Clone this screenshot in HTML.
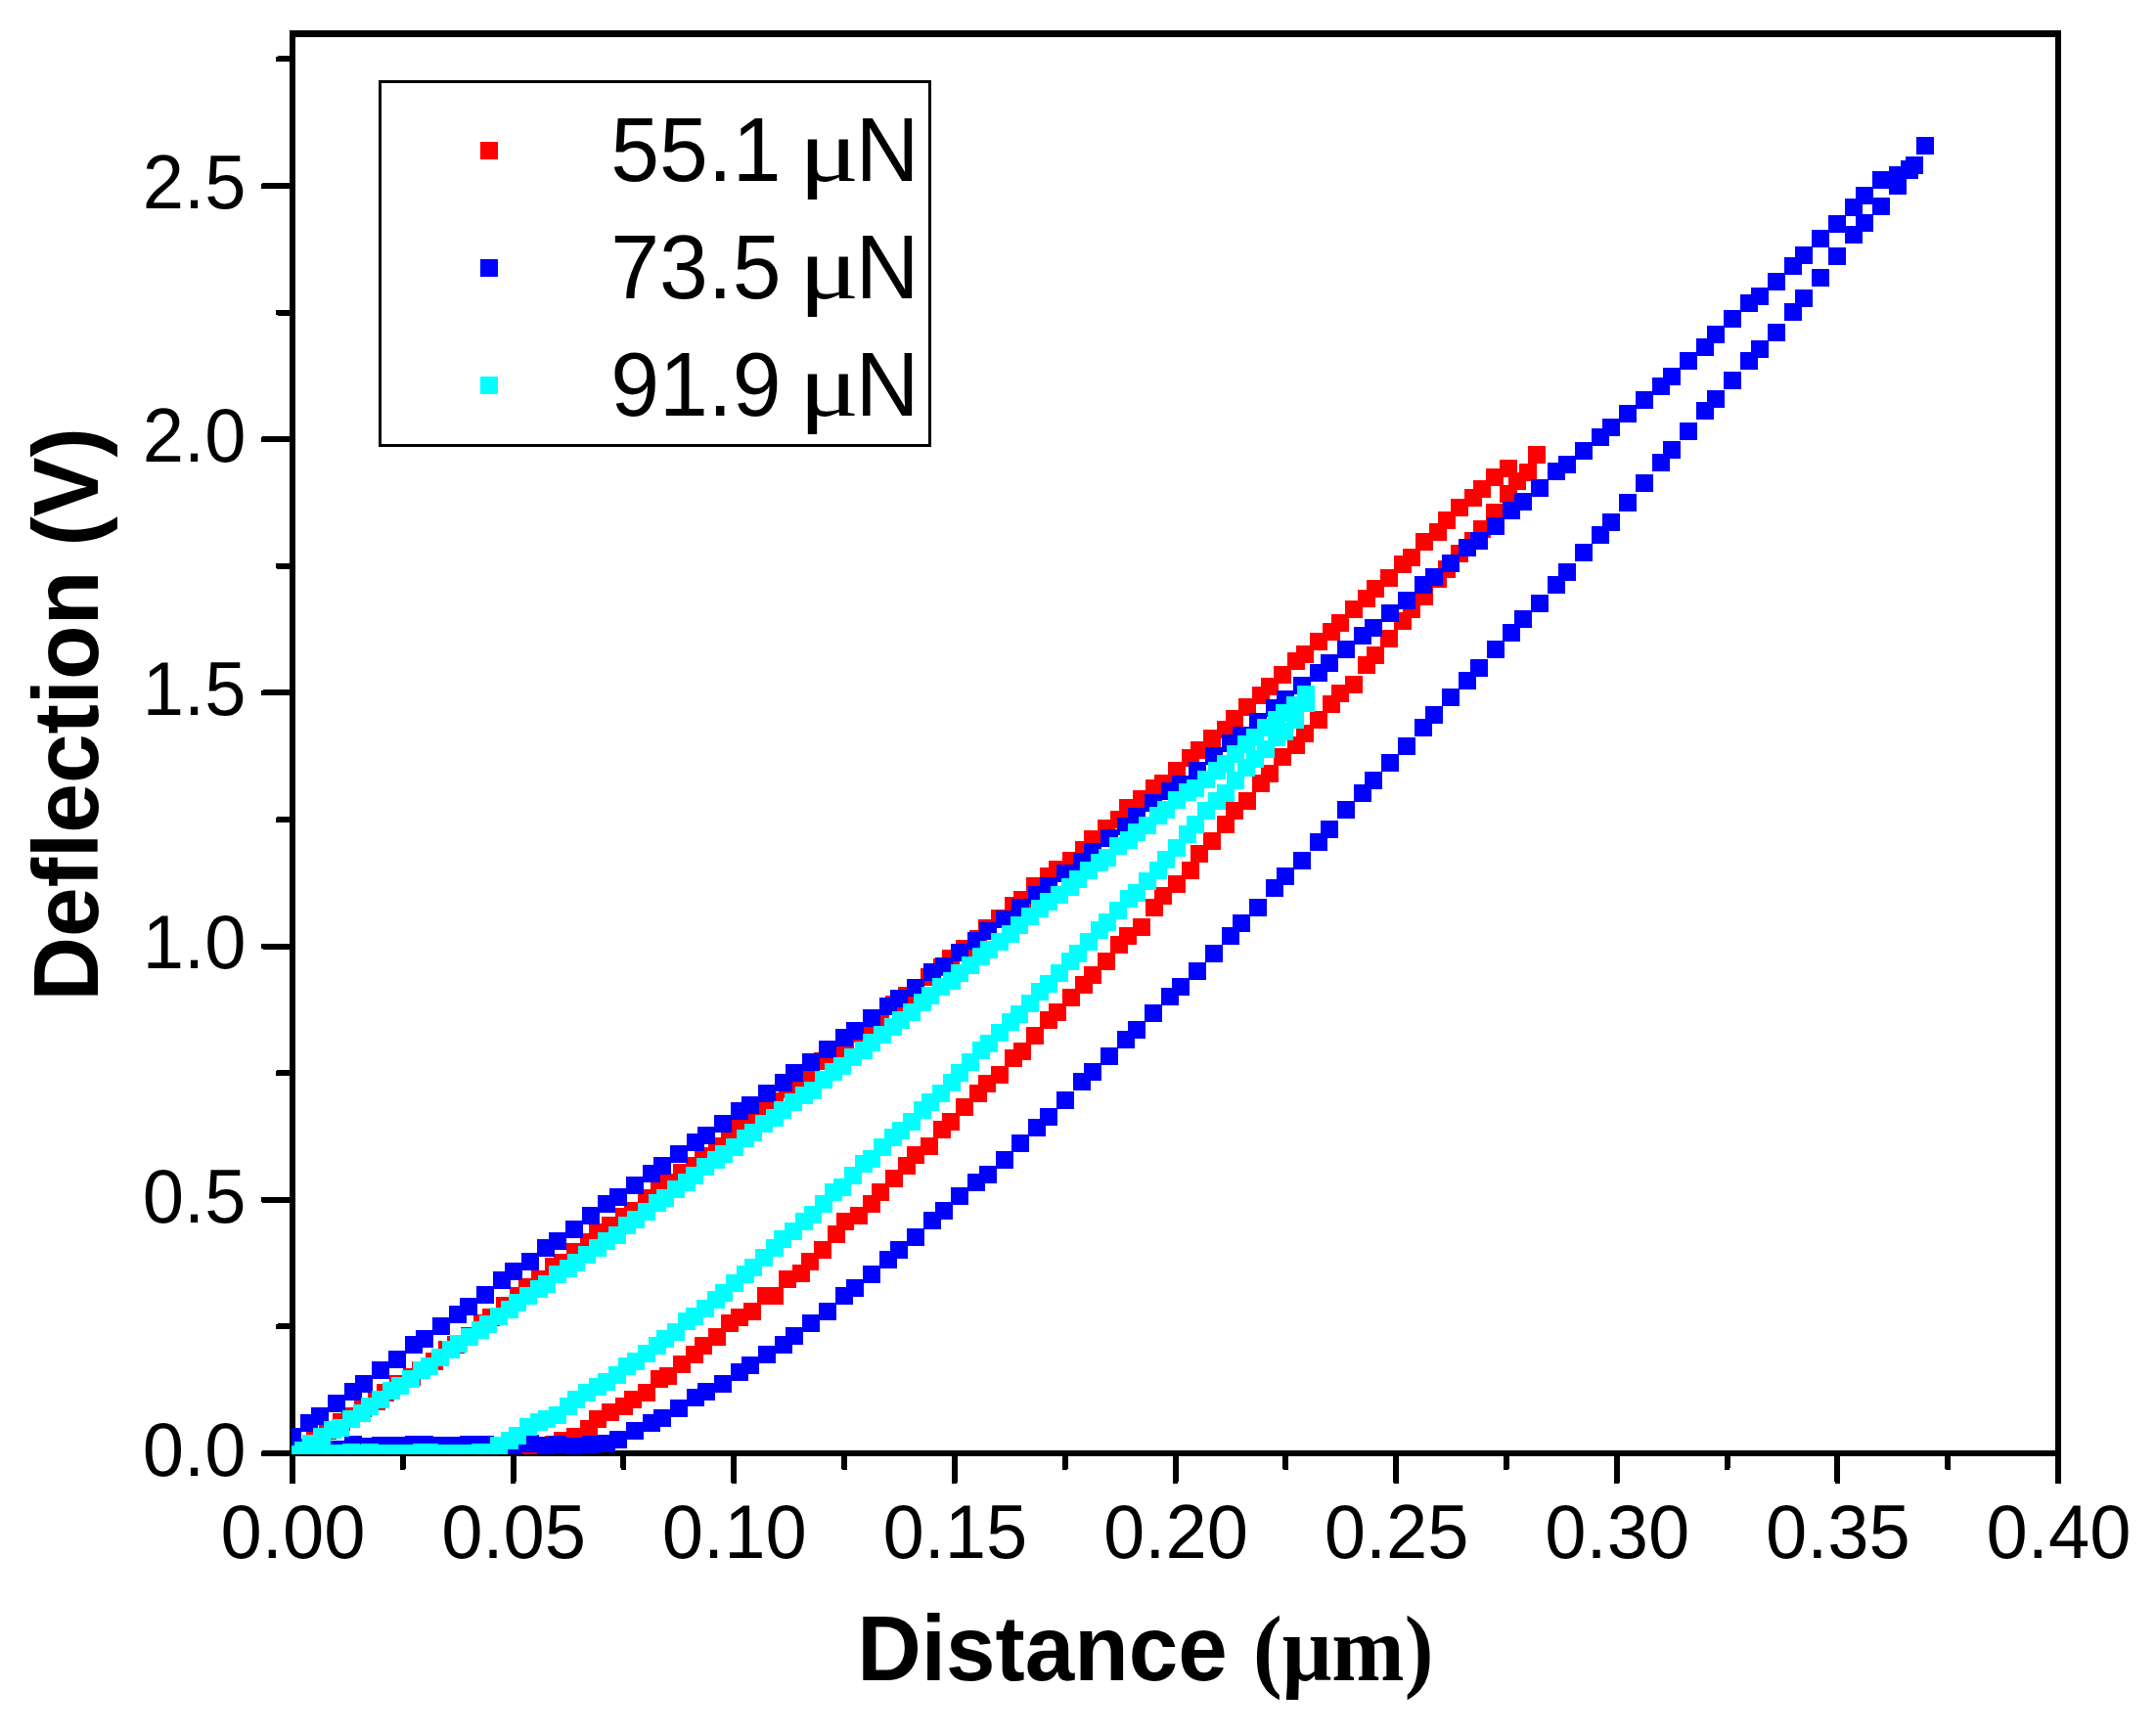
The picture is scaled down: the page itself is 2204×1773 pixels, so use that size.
<!DOCTYPE html>
<html lang="en"><head><meta charset="utf-8"><title>Deflection vs Distance</title>
<style>html,body{margin:0;padding:0;background:#fff}svg{display:block}</style></head>
<body>
<svg width="2204" height="1773" viewBox="0 0 2204 1773" shape-rendering="crispEdges">
<rect width="2204" height="1773" fill="#fff"/>
<g fill="#000">
<rect x="296" y="31" width="6" height="1486"/>
<rect x="2101" y="31" width="6" height="1486"/>
<rect x="296" y="31" width="1811" height="7"/>
<rect x="296" y="1483" width="1811" height="6"/>
<rect x="408.8" y="1485" width="6" height="18" rx="2"/>
<rect x="521.6" y="1485" width="6" height="32" rx="2"/>
<rect x="634.4" y="1485" width="6" height="18" rx="2"/>
<rect x="747.2" y="1485" width="6" height="32" rx="2"/>
<rect x="860.1" y="1485" width="6" height="18" rx="2"/>
<rect x="972.9" y="1485" width="6" height="32" rx="2"/>
<rect x="1085.7" y="1485" width="6" height="18" rx="2"/>
<rect x="1198.5" y="1485" width="6" height="32" rx="2"/>
<rect x="1311.3" y="1485" width="6" height="18" rx="2"/>
<rect x="1424.1" y="1485" width="6" height="32" rx="2"/>
<rect x="1536.9" y="1485" width="6" height="18" rx="2"/>
<rect x="1649.8" y="1485" width="6" height="32" rx="2"/>
<rect x="1762.6" y="1485" width="6" height="18" rx="2"/>
<rect x="1875.4" y="1485" width="6" height="32" rx="2"/>
<rect x="1988.2" y="1485" width="6" height="18" rx="2"/>
<rect x="267" y="1483.0" width="33" height="6" rx="2"/>
<rect x="282" y="1353.4" width="18" height="6" rx="2"/>
<rect x="267" y="1223.8" width="33" height="6" rx="2"/>
<rect x="282" y="1094.2" width="18" height="6" rx="2"/>
<rect x="267" y="964.6" width="33" height="6" rx="2"/>
<rect x="282" y="835.0" width="18" height="6" rx="2"/>
<rect x="267" y="705.4" width="33" height="6" rx="2"/>
<rect x="282" y="575.8" width="18" height="6" rx="2"/>
<rect x="267" y="446.2" width="33" height="6" rx="2"/>
<rect x="282" y="316.6" width="18" height="6" rx="2"/>
<rect x="267" y="187.0" width="33" height="6" rx="2"/>
<rect x="282" y="57.4" width="18" height="6" rx="2"/>
</g>
<defs><clipPath id="c"><rect x="298" y="34" width="1807" height="1453"/></clipPath></defs>
<g clip-path="url(#c)">
<g fill="#ff0000"><rect x="290" y="1479" width="18" height="18"/><rect x="304" y="1471" width="18" height="18"/><rect x="313" y="1464" width="18" height="18"/><rect x="326" y="1454" width="18" height="18"/><rect x="340" y="1445" width="18" height="18"/><rect x="349" y="1439" width="18" height="18"/><rect x="362" y="1431" width="18" height="18"/><rect x="376" y="1424" width="18" height="18"/><rect x="385" y="1415" width="18" height="18"/><rect x="398" y="1406" width="18" height="18"/><rect x="412" y="1399" width="18" height="18"/><rect x="421" y="1392" width="18" height="18"/><rect x="435" y="1383" width="18" height="18"/><rect x="448" y="1371" width="18" height="18"/><rect x="457" y="1366" width="18" height="18"/><rect x="471" y="1357" width="18" height="18"/><rect x="484" y="1344" width="18" height="18"/><rect x="493" y="1338" width="18" height="18"/><rect x="507" y="1326" width="18" height="18"/><rect x="521" y="1316" width="18" height="18"/><rect x="530" y="1307" width="18" height="18"/><rect x="543" y="1299" width="18" height="18"/><rect x="557" y="1286" width="18" height="18"/><rect x="566" y="1282" width="18" height="18"/><rect x="579" y="1271" width="18" height="18"/><rect x="593" y="1261" width="18" height="18"/><rect x="602" y="1251" width="18" height="18"/><rect x="615" y="1244" width="18" height="18"/><rect x="629" y="1235" width="18" height="18"/><rect x="638" y="1229" width="18" height="18"/><rect x="652" y="1216" width="18" height="18"/><rect x="665" y="1208" width="18" height="18"/><rect x="674" y="1200" width="18" height="18"/><rect x="688" y="1190" width="18" height="18"/><rect x="701" y="1183" width="18" height="18"/><rect x="710" y="1173" width="18" height="18"/><rect x="724" y="1163" width="18" height="18"/><rect x="737" y="1154" width="18" height="18"/><rect x="747" y="1145" width="18" height="18"/><rect x="760" y="1135" width="18" height="18"/><rect x="774" y="1125" width="18" height="18"/><rect x="783" y="1117" width="18" height="18"/><rect x="796" y="1105" width="18" height="18"/><rect x="810" y="1096" width="18" height="18"/><rect x="819" y="1091" width="18" height="18"/><rect x="832" y="1076" width="18" height="18"/><rect x="846" y="1069" width="18" height="18"/><rect x="855" y="1060" width="18" height="18"/><rect x="869" y="1048" width="18" height="18"/><rect x="882" y="1041" width="18" height="18"/><rect x="891" y="1032" width="18" height="18"/><rect x="905" y="1018" width="18" height="18"/><rect x="918" y="1009" width="18" height="18"/><rect x="927" y="1002" width="18" height="18"/><rect x="941" y="990" width="18" height="18"/><rect x="954" y="980" width="18" height="18"/><rect x="963" y="971" width="18" height="18"/><rect x="977" y="961" width="18" height="18"/><rect x="991" y="951" width="18" height="18"/><rect x="1000" y="940" width="18" height="18"/><rect x="1013" y="930" width="18" height="18"/><rect x="1027" y="917" width="18" height="18"/><rect x="1036" y="911" width="18" height="18"/><rect x="1049" y="897" width="18" height="18"/><rect x="1063" y="887" width="18" height="18"/><rect x="1072" y="880" width="18" height="18"/><rect x="1086" y="871" width="18" height="18"/><rect x="1099" y="860" width="18" height="18"/><rect x="1108" y="849" width="18" height="18"/><rect x="1122" y="838" width="18" height="18"/><rect x="1135" y="829" width="18" height="18"/><rect x="1144" y="817" width="18" height="18"/><rect x="1158" y="808" width="18" height="18"/><rect x="1171" y="797" width="18" height="18"/><rect x="1180" y="792" width="18" height="18"/><rect x="1194" y="779" width="18" height="18"/><rect x="1208" y="766" width="18" height="18"/><rect x="1217" y="758" width="18" height="18"/><rect x="1230" y="746" width="18" height="18"/><rect x="1244" y="737" width="18" height="18"/><rect x="1253" y="726" width="18" height="18"/><rect x="1266" y="714" width="18" height="18"/><rect x="1280" y="702" width="18" height="18"/><rect x="1289" y="693" width="18" height="18"/><rect x="1302" y="681" width="18" height="18"/><rect x="1316" y="667" width="18" height="18"/><rect x="1325" y="660" width="18" height="18"/><rect x="1339" y="647" width="18" height="18"/><rect x="1352" y="637" width="18" height="18"/><rect x="1361" y="628" width="18" height="18"/><rect x="1375" y="614" width="18" height="18"/><rect x="1388" y="603" width="18" height="18"/><rect x="1397" y="593" width="18" height="18"/><rect x="1411" y="582" width="18" height="18"/><rect x="1425" y="568" width="18" height="18"/><rect x="1434" y="561" width="18" height="18"/><rect x="1447" y="545" width="18" height="18"/><rect x="1461" y="535" width="18" height="18"/><rect x="1470" y="523" width="18" height="18"/><rect x="1483" y="510" width="18" height="18"/><rect x="1497" y="500" width="18" height="18"/><rect x="1506" y="491" width="18" height="18"/><rect x="1519" y="479" width="18" height="18"/><rect x="1533" y="470" width="18" height="18"/><rect x="1562" y="456" width="18" height="18"/><rect x="511" y="1470" width="18" height="18"/><rect x="521" y="1471" width="18" height="18"/><rect x="530" y="1472" width="18" height="18"/><rect x="543" y="1472" width="18" height="18"/><rect x="557" y="1468" width="18" height="18"/><rect x="566" y="1464" width="18" height="18"/><rect x="579" y="1460" width="18" height="18"/><rect x="593" y="1452" width="18" height="18"/><rect x="602" y="1442" width="18" height="18"/><rect x="615" y="1435" width="18" height="18"/><rect x="629" y="1429" width="18" height="18"/><rect x="638" y="1422" width="18" height="18"/><rect x="652" y="1415" width="18" height="18"/><rect x="665" y="1401" width="18" height="18"/><rect x="674" y="1398" width="18" height="18"/><rect x="688" y="1386" width="18" height="18"/><rect x="701" y="1376" width="18" height="18"/><rect x="710" y="1367" width="18" height="18"/><rect x="724" y="1358" width="18" height="18"/><rect x="737" y="1344" width="18" height="18"/><rect x="747" y="1338" width="18" height="18"/><rect x="760" y="1332" width="18" height="18"/><rect x="774" y="1316" width="18" height="18"/><rect x="783" y="1316" width="18" height="18"/><rect x="796" y="1299" width="18" height="18"/><rect x="810" y="1293" width="18" height="18"/><rect x="819" y="1281" width="18" height="18"/><rect x="832" y="1269" width="18" height="18"/><rect x="846" y="1253" width="18" height="18"/><rect x="855" y="1240" width="18" height="18"/><rect x="869" y="1234" width="18" height="18"/><rect x="882" y="1222" width="18" height="18"/><rect x="891" y="1210" width="18" height="18"/><rect x="905" y="1196" width="18" height="18"/><rect x="918" y="1183" width="18" height="18"/><rect x="927" y="1172" width="18" height="18"/><rect x="941" y="1163" width="18" height="18"/><rect x="954" y="1146" width="18" height="18"/><rect x="963" y="1138" width="18" height="18"/><rect x="977" y="1123" width="18" height="18"/><rect x="991" y="1109" width="18" height="18"/><rect x="1000" y="1099" width="18" height="18"/><rect x="1013" y="1090" width="18" height="18"/><rect x="1027" y="1073" width="18" height="18"/><rect x="1036" y="1066" width="18" height="18"/><rect x="1049" y="1050" width="18" height="18"/><rect x="1063" y="1034" width="18" height="18"/><rect x="1072" y="1026" width="18" height="18"/><rect x="1086" y="1011" width="18" height="18"/><rect x="1099" y="998" width="18" height="18"/><rect x="1108" y="988" width="18" height="18"/><rect x="1122" y="974" width="18" height="18"/><rect x="1135" y="957" width="18" height="18"/><rect x="1144" y="948" width="18" height="18"/><rect x="1158" y="939" width="18" height="18"/><rect x="1171" y="919" width="18" height="18"/><rect x="1180" y="907" width="18" height="18"/><rect x="1194" y="895" width="18" height="18"/><rect x="1208" y="881" width="18" height="18"/><rect x="1217" y="864" width="18" height="18"/><rect x="1230" y="851" width="18" height="18"/><rect x="1244" y="834" width="18" height="18"/><rect x="1253" y="820" width="18" height="18"/><rect x="1266" y="810" width="18" height="18"/><rect x="1280" y="792" width="18" height="18"/><rect x="1289" y="782" width="18" height="18"/><rect x="1302" y="765" width="18" height="18"/><rect x="1316" y="753" width="18" height="18"/><rect x="1325" y="741" width="18" height="18"/><rect x="1339" y="727" width="18" height="18"/><rect x="1352" y="711" width="18" height="18"/><rect x="1361" y="700" width="18" height="18"/><rect x="1375" y="691" width="18" height="18"/><rect x="1388" y="671" width="18" height="18"/><rect x="1397" y="661" width="18" height="18"/><rect x="1411" y="644" width="18" height="18"/><rect x="1425" y="626" width="18" height="18"/><rect x="1434" y="614" width="18" height="18"/><rect x="1447" y="601" width="18" height="18"/><rect x="1461" y="583" width="18" height="18"/><rect x="1470" y="573" width="18" height="18"/><rect x="1483" y="557" width="18" height="18"/><rect x="1497" y="544" width="18" height="18"/><rect x="1506" y="532" width="18" height="18"/><rect x="1519" y="515" width="18" height="18"/><rect x="1533" y="496" width="18" height="18"/><rect x="1542" y="483" width="18" height="18"/><rect x="1553" y="474" width="18" height="18"/></g>
<g fill="#0000ff"><rect x="290" y="1460" width="18" height="18"/><rect x="307" y="1446" width="18" height="18"/><rect x="318" y="1439" width="18" height="18"/><rect x="335" y="1426" width="18" height="18"/><rect x="352" y="1414" width="18" height="18"/><rect x="363" y="1406" width="18" height="18"/><rect x="380" y="1392" width="18" height="18"/><rect x="397" y="1381" width="18" height="18"/><rect x="414" y="1366" width="18" height="18"/><rect x="425" y="1360" width="18" height="18"/><rect x="442" y="1347" width="18" height="18"/><rect x="459" y="1335" width="18" height="18"/><rect x="470" y="1327" width="18" height="18"/><rect x="487" y="1315" width="18" height="18"/><rect x="504" y="1300" width="18" height="18"/><rect x="516" y="1291" width="18" height="18"/><rect x="533" y="1281" width="18" height="18"/><rect x="549" y="1267" width="18" height="18"/><rect x="561" y="1260" width="18" height="18"/><rect x="578" y="1248" width="18" height="18"/><rect x="595" y="1234" width="18" height="18"/><rect x="611" y="1222" width="18" height="18"/><rect x="623" y="1215" width="18" height="18"/><rect x="640" y="1203" width="18" height="18"/><rect x="657" y="1191" width="18" height="18"/><rect x="668" y="1183" width="18" height="18"/><rect x="685" y="1171" width="18" height="18"/><rect x="702" y="1159" width="18" height="18"/><rect x="713" y="1152" width="18" height="18"/><rect x="730" y="1140" width="18" height="18"/><rect x="747" y="1127" width="18" height="18"/><rect x="758" y="1121" width="18" height="18"/><rect x="775" y="1109" width="18" height="18"/><rect x="792" y="1098" width="18" height="18"/><rect x="803" y="1088" width="18" height="18"/><rect x="820" y="1077" width="18" height="18"/><rect x="837" y="1064" width="18" height="18"/><rect x="854" y="1052" width="18" height="18"/><rect x="865" y="1045" width="18" height="18"/><rect x="882" y="1032" width="18" height="18"/><rect x="899" y="1020" width="18" height="18"/><rect x="910" y="1012" width="18" height="18"/><rect x="927" y="1001" width="18" height="18"/><rect x="944" y="985" width="18" height="18"/><rect x="956" y="979" width="18" height="18"/><rect x="972" y="965" width="18" height="18"/><rect x="989" y="953" width="18" height="18"/><rect x="1001" y="943" width="18" height="18"/><rect x="1018" y="931" width="18" height="18"/><rect x="1034" y="919" width="18" height="18"/><rect x="1051" y="906" width="18" height="18"/><rect x="1063" y="897" width="18" height="18"/><rect x="1080" y="884" width="18" height="18"/><rect x="1097" y="872" width="18" height="18"/><rect x="1108" y="862" width="18" height="18"/><rect x="1125" y="848" width="18" height="18"/><rect x="1142" y="836" width="18" height="18"/><rect x="1153" y="826" width="18" height="18"/><rect x="1170" y="812" width="18" height="18"/><rect x="1187" y="800" width="18" height="18"/><rect x="1198" y="793" width="18" height="18"/><rect x="1215" y="779" width="18" height="18"/><rect x="1232" y="764" width="18" height="18"/><rect x="1249" y="751" width="18" height="18"/><rect x="1260" y="743" width="18" height="18"/><rect x="1277" y="729" width="18" height="18"/><rect x="1294" y="715" width="18" height="18"/><rect x="1305" y="706" width="18" height="18"/><rect x="1322" y="692" width="18" height="18"/><rect x="1339" y="679" width="18" height="18"/><rect x="1350" y="669" width="18" height="18"/><rect x="1367" y="655" width="18" height="18"/><rect x="1384" y="641" width="18" height="18"/><rect x="1395" y="633" width="18" height="18"/><rect x="1412" y="618" width="18" height="18"/><rect x="1429" y="605" width="18" height="18"/><rect x="1446" y="589" width="18" height="18"/><rect x="1457" y="581" width="18" height="18"/><rect x="1474" y="567" width="18" height="18"/><rect x="1491" y="551" width="18" height="18"/><rect x="1503" y="544" width="18" height="18"/><rect x="1520" y="529" width="18" height="18"/><rect x="1536" y="513" width="18" height="18"/><rect x="1548" y="504" width="18" height="18"/><rect x="1565" y="490" width="18" height="18"/><rect x="1582" y="473" width="18" height="18"/><rect x="1593" y="466" width="18" height="18"/><rect x="1610" y="452" width="18" height="18"/><rect x="1627" y="438" width="18" height="18"/><rect x="1638" y="428" width="18" height="18"/><rect x="1655" y="414" width="18" height="18"/><rect x="1672" y="400" width="18" height="18"/><rect x="1689" y="386" width="18" height="18"/><rect x="1700" y="376" width="18" height="18"/><rect x="1717" y="360" width="18" height="18"/><rect x="1734" y="346" width="18" height="18"/><rect x="1745" y="333" width="18" height="18"/><rect x="1762" y="317" width="18" height="18"/><rect x="1779" y="301" width="18" height="18"/><rect x="1790" y="294" width="18" height="18"/><rect x="1807" y="279" width="18" height="18"/><rect x="1824" y="263" width="18" height="18"/><rect x="1835" y="252" width="18" height="18"/><rect x="1852" y="235" width="18" height="18"/><rect x="1869" y="220" width="18" height="18"/><rect x="1886" y="203" width="18" height="18"/><rect x="1897" y="191" width="18" height="18"/><rect x="1914" y="175" width="18" height="18"/><rect x="1931" y="170" width="18" height="18"/><rect x="1943" y="164" width="18" height="18"/><rect x="1959" y="140" width="18" height="18"/><rect x="337" y="1473" width="18" height="18"/><rect x="352" y="1468" width="18" height="18"/><rect x="363" y="1470" width="18" height="18"/><rect x="380" y="1469" width="18" height="18"/><rect x="397" y="1469" width="18" height="18"/><rect x="414" y="1468" width="18" height="18"/><rect x="425" y="1468" width="18" height="18"/><rect x="442" y="1469" width="18" height="18"/><rect x="459" y="1469" width="18" height="18"/><rect x="470" y="1468" width="18" height="18"/><rect x="487" y="1468" width="18" height="18"/><rect x="504" y="1469" width="18" height="18"/><rect x="516" y="1469" width="18" height="18"/><rect x="533" y="1467" width="18" height="18"/><rect x="549" y="1469" width="18" height="18"/><rect x="561" y="1468" width="18" height="18"/><rect x="578" y="1470" width="18" height="18"/><rect x="595" y="1468" width="18" height="18"/><rect x="611" y="1467" width="18" height="18"/><rect x="623" y="1463" width="18" height="18"/><rect x="640" y="1454" width="18" height="18"/><rect x="657" y="1446" width="18" height="18"/><rect x="668" y="1441" width="18" height="18"/><rect x="685" y="1431" width="18" height="18"/><rect x="702" y="1420" width="18" height="18"/><rect x="713" y="1414" width="18" height="18"/><rect x="730" y="1406" width="18" height="18"/><rect x="747" y="1394" width="18" height="18"/><rect x="758" y="1387" width="18" height="18"/><rect x="775" y="1376" width="18" height="18"/><rect x="792" y="1366" width="18" height="18"/><rect x="803" y="1357" width="18" height="18"/><rect x="820" y="1344" width="18" height="18"/><rect x="837" y="1332" width="18" height="18"/><rect x="854" y="1316" width="18" height="18"/><rect x="865" y="1308" width="18" height="18"/><rect x="882" y="1294" width="18" height="18"/><rect x="899" y="1279" width="18" height="18"/><rect x="910" y="1269" width="18" height="18"/><rect x="927" y="1256" width="18" height="18"/><rect x="944" y="1239" width="18" height="18"/><rect x="956" y="1229" width="18" height="18"/><rect x="972" y="1214" width="18" height="18"/><rect x="989" y="1200" width="18" height="18"/><rect x="1001" y="1192" width="18" height="18"/><rect x="1018" y="1177" width="18" height="18"/><rect x="1034" y="1160" width="18" height="18"/><rect x="1051" y="1144" width="18" height="18"/><rect x="1063" y="1133" width="18" height="18"/><rect x="1080" y="1116" width="18" height="18"/><rect x="1097" y="1097" width="18" height="18"/><rect x="1108" y="1087" width="18" height="18"/><rect x="1125" y="1071" width="18" height="18"/><rect x="1142" y="1054" width="18" height="18"/><rect x="1153" y="1044" width="18" height="18"/><rect x="1170" y="1027" width="18" height="18"/><rect x="1187" y="1010" width="18" height="18"/><rect x="1198" y="1000" width="18" height="18"/><rect x="1215" y="984" width="18" height="18"/><rect x="1232" y="966" width="18" height="18"/><rect x="1249" y="948" width="18" height="18"/><rect x="1260" y="935" width="18" height="18"/><rect x="1277" y="919" width="18" height="18"/><rect x="1294" y="899" width="18" height="18"/><rect x="1305" y="887" width="18" height="18"/><rect x="1322" y="871" width="18" height="18"/><rect x="1339" y="852" width="18" height="18"/><rect x="1350" y="839" width="18" height="18"/><rect x="1367" y="819" width="18" height="18"/><rect x="1384" y="802" width="18" height="18"/><rect x="1395" y="789" width="18" height="18"/><rect x="1412" y="771" width="18" height="18"/><rect x="1429" y="754" width="18" height="18"/><rect x="1446" y="735" width="18" height="18"/><rect x="1457" y="722" width="18" height="18"/><rect x="1474" y="704" width="18" height="18"/><rect x="1491" y="687" width="18" height="18"/><rect x="1503" y="674" width="18" height="18"/><rect x="1520" y="655" width="18" height="18"/><rect x="1536" y="638" width="18" height="18"/><rect x="1548" y="624" width="18" height="18"/><rect x="1565" y="608" width="18" height="18"/><rect x="1582" y="589" width="18" height="18"/><rect x="1593" y="576" width="18" height="18"/><rect x="1610" y="556" width="18" height="18"/><rect x="1627" y="538" width="18" height="18"/><rect x="1638" y="525" width="18" height="18"/><rect x="1655" y="505" width="18" height="18"/><rect x="1672" y="485" width="18" height="18"/><rect x="1689" y="464" width="18" height="18"/><rect x="1700" y="451" width="18" height="18"/><rect x="1717" y="432" width="18" height="18"/><rect x="1734" y="411" width="18" height="18"/><rect x="1745" y="399" width="18" height="18"/><rect x="1762" y="380" width="18" height="18"/><rect x="1779" y="360" width="18" height="18"/><rect x="1790" y="348" width="18" height="18"/><rect x="1807" y="331" width="18" height="18"/><rect x="1824" y="310" width="18" height="18"/><rect x="1835" y="296" width="18" height="18"/><rect x="1852" y="275" width="18" height="18"/><rect x="1869" y="253" width="18" height="18"/><rect x="1886" y="231" width="18" height="18"/><rect x="1897" y="219" width="18" height="18"/><rect x="1914" y="202" width="18" height="18"/><rect x="1931" y="181" width="18" height="18"/><rect x="1943" y="165" width="18" height="18"/><rect x="1948" y="160" width="18" height="18"/></g>
<g fill="#00ffff"><rect x="290" y="1480" width="18" height="18"/><rect x="301" y="1474" width="18" height="18"/><rect x="309" y="1467" width="18" height="18"/><rect x="320" y="1460" width="18" height="18"/><rect x="331" y="1453" width="18" height="18"/><rect x="339" y="1451" width="18" height="18"/><rect x="350" y="1442" width="18" height="18"/><rect x="361" y="1436" width="18" height="18"/><rect x="369" y="1429" width="18" height="18"/><rect x="380" y="1422" width="18" height="18"/><rect x="391" y="1413" width="18" height="18"/><rect x="400" y="1408" width="18" height="18"/><rect x="411" y="1401" width="18" height="18"/><rect x="422" y="1392" width="18" height="18"/><rect x="430" y="1388" width="18" height="18"/><rect x="441" y="1379" width="18" height="18"/><rect x="452" y="1371" width="18" height="18"/><rect x="460" y="1365" width="18" height="18"/><rect x="471" y="1358" width="18" height="18"/><rect x="482" y="1351" width="18" height="18"/><rect x="490" y="1345" width="18" height="18"/><rect x="501" y="1337" width="18" height="18"/><rect x="512" y="1330" width="18" height="18"/><rect x="520" y="1323" width="18" height="18"/><rect x="531" y="1316" width="18" height="18"/><rect x="542" y="1309" width="18" height="18"/><rect x="550" y="1304" width="18" height="18"/><rect x="561" y="1294" width="18" height="18"/><rect x="572" y="1288" width="18" height="18"/><rect x="580" y="1282" width="18" height="18"/><rect x="591" y="1274" width="18" height="18"/><rect x="602" y="1267" width="18" height="18"/><rect x="611" y="1260" width="18" height="18"/><rect x="622" y="1254" width="18" height="18"/><rect x="632" y="1244" width="18" height="18"/><rect x="641" y="1238" width="18" height="18"/><rect x="652" y="1230" width="18" height="18"/><rect x="663" y="1221" width="18" height="18"/><rect x="671" y="1216" width="18" height="18"/><rect x="682" y="1207" width="18" height="18"/><rect x="693" y="1200" width="18" height="18"/><rect x="701" y="1193" width="18" height="18"/><rect x="712" y="1184" width="18" height="18"/><rect x="723" y="1177" width="18" height="18"/><rect x="731" y="1171" width="18" height="18"/><rect x="742" y="1164" width="18" height="18"/><rect x="753" y="1155" width="18" height="18"/><rect x="761" y="1149" width="18" height="18"/><rect x="772" y="1140" width="18" height="18"/><rect x="783" y="1134" width="18" height="18"/><rect x="791" y="1126" width="18" height="18"/><rect x="802" y="1118" width="18" height="18"/><rect x="813" y="1111" width="18" height="18"/><rect x="822" y="1106" width="18" height="18"/><rect x="833" y="1095" width="18" height="18"/><rect x="843" y="1087" width="18" height="18"/><rect x="852" y="1081" width="18" height="18"/><rect x="863" y="1072" width="18" height="18"/><rect x="874" y="1065" width="18" height="18"/><rect x="882" y="1057" width="18" height="18"/><rect x="893" y="1049" width="18" height="18"/><rect x="904" y="1041" width="18" height="18"/><rect x="912" y="1034" width="18" height="18"/><rect x="923" y="1026" width="18" height="18"/><rect x="934" y="1016" width="18" height="18"/><rect x="942" y="1009" width="18" height="18"/><rect x="953" y="1000" width="18" height="18"/><rect x="964" y="994" width="18" height="18"/><rect x="972" y="986" width="18" height="18"/><rect x="983" y="978" width="18" height="18"/><rect x="994" y="969" width="18" height="18"/><rect x="1002" y="962" width="18" height="18"/><rect x="1013" y="954" width="18" height="18"/><rect x="1024" y="946" width="18" height="18"/><rect x="1033" y="937" width="18" height="18"/><rect x="1044" y="928" width="18" height="18"/><rect x="1054" y="920" width="18" height="18"/><rect x="1063" y="913" width="18" height="18"/><rect x="1074" y="906" width="18" height="18"/><rect x="1085" y="898" width="18" height="18"/><rect x="1093" y="890" width="18" height="18"/><rect x="1104" y="881" width="18" height="18"/><rect x="1115" y="873" width="18" height="18"/><rect x="1123" y="868" width="18" height="18"/><rect x="1134" y="856" width="18" height="18"/><rect x="1145" y="850" width="18" height="18"/><rect x="1153" y="842" width="18" height="18"/><rect x="1164" y="835" width="18" height="18"/><rect x="1175" y="825" width="18" height="18"/><rect x="1183" y="819" width="18" height="18"/><rect x="1194" y="809" width="18" height="18"/><rect x="1205" y="801" width="18" height="18"/><rect x="1213" y="797" width="18" height="18"/><rect x="1224" y="788" width="18" height="18"/><rect x="1235" y="779" width="18" height="18"/><rect x="1244" y="772" width="18" height="18"/><rect x="1254" y="762" width="18" height="18"/><rect x="1265" y="752" width="18" height="18"/><rect x="1274" y="745" width="18" height="18"/><rect x="1285" y="735" width="18" height="18"/><rect x="1296" y="727" width="18" height="18"/><rect x="1304" y="720" width="18" height="18"/><rect x="1315" y="712" width="18" height="18"/><rect x="1326" y="701" width="18" height="18"/><rect x="290" y="1478" width="18" height="18"/><rect x="301" y="1478" width="18" height="18"/><rect x="309" y="1477" width="18" height="18"/><rect x="320" y="1476" width="18" height="18"/><rect x="331" y="1477" width="18" height="18"/><rect x="339" y="1477" width="18" height="18"/><rect x="350" y="1476" width="18" height="18"/><rect x="361" y="1477" width="18" height="18"/><rect x="369" y="1476" width="18" height="18"/><rect x="380" y="1477" width="18" height="18"/><rect x="391" y="1477" width="18" height="18"/><rect x="400" y="1477" width="18" height="18"/><rect x="411" y="1477" width="18" height="18"/><rect x="422" y="1476" width="18" height="18"/><rect x="430" y="1476" width="18" height="18"/><rect x="441" y="1477" width="18" height="18"/><rect x="452" y="1477" width="18" height="18"/><rect x="460" y="1477" width="18" height="18"/><rect x="471" y="1477" width="18" height="18"/><rect x="482" y="1476" width="18" height="18"/><rect x="490" y="1476" width="18" height="18"/><rect x="501" y="1469" width="18" height="18"/><rect x="512" y="1464" width="18" height="18"/><rect x="520" y="1459" width="18" height="18"/><rect x="531" y="1450" width="18" height="18"/><rect x="542" y="1445" width="18" height="18"/><rect x="550" y="1442" width="18" height="18"/><rect x="561" y="1438" width="18" height="18"/><rect x="572" y="1429" width="18" height="18"/><rect x="580" y="1422" width="18" height="18"/><rect x="591" y="1415" width="18" height="18"/><rect x="602" y="1409" width="18" height="18"/><rect x="611" y="1404" width="18" height="18"/><rect x="622" y="1397" width="18" height="18"/><rect x="632" y="1388" width="18" height="18"/><rect x="641" y="1383" width="18" height="18"/><rect x="652" y="1375" width="18" height="18"/><rect x="663" y="1367" width="18" height="18"/><rect x="671" y="1360" width="18" height="18"/><rect x="682" y="1353" width="18" height="18"/><rect x="693" y="1342" width="18" height="18"/><rect x="701" y="1337" width="18" height="18"/><rect x="712" y="1329" width="18" height="18"/><rect x="723" y="1320" width="18" height="18"/><rect x="731" y="1313" width="18" height="18"/><rect x="742" y="1303" width="18" height="18"/><rect x="753" y="1294" width="18" height="18"/><rect x="761" y="1287" width="18" height="18"/><rect x="772" y="1277" width="18" height="18"/><rect x="783" y="1267" width="18" height="18"/><rect x="791" y="1258" width="18" height="18"/><rect x="802" y="1250" width="18" height="18"/><rect x="813" y="1240" width="18" height="18"/><rect x="822" y="1233" width="18" height="18"/><rect x="833" y="1222" width="18" height="18"/><rect x="843" y="1210" width="18" height="18"/><rect x="852" y="1205" width="18" height="18"/><rect x="863" y="1193" width="18" height="18"/><rect x="874" y="1181" width="18" height="18"/><rect x="882" y="1176" width="18" height="18"/><rect x="893" y="1164" width="18" height="18"/><rect x="904" y="1154" width="18" height="18"/><rect x="912" y="1147" width="18" height="18"/><rect x="923" y="1138" width="18" height="18"/><rect x="934" y="1126" width="18" height="18"/><rect x="942" y="1118" width="18" height="18"/><rect x="953" y="1109" width="18" height="18"/><rect x="964" y="1098" width="18" height="18"/><rect x="972" y="1088" width="18" height="18"/><rect x="983" y="1077" width="18" height="18"/><rect x="994" y="1065" width="18" height="18"/><rect x="1002" y="1058" width="18" height="18"/><rect x="1013" y="1047" width="18" height="18"/><rect x="1024" y="1036" width="18" height="18"/><rect x="1033" y="1028" width="18" height="18"/><rect x="1044" y="1017" width="18" height="18"/><rect x="1054" y="1005" width="18" height="18"/><rect x="1063" y="997" width="18" height="18"/><rect x="1074" y="986" width="18" height="18"/><rect x="1085" y="974" width="18" height="18"/><rect x="1093" y="966" width="18" height="18"/><rect x="1104" y="954" width="18" height="18"/><rect x="1115" y="942" width="18" height="18"/><rect x="1123" y="934" width="18" height="18"/><rect x="1134" y="922" width="18" height="18"/><rect x="1145" y="910" width="18" height="18"/><rect x="1153" y="904" width="18" height="18"/><rect x="1164" y="892" width="18" height="18"/><rect x="1175" y="881" width="18" height="18"/><rect x="1183" y="870" width="18" height="18"/><rect x="1194" y="858" width="18" height="18"/><rect x="1205" y="844" width="18" height="18"/><rect x="1213" y="834" width="18" height="18"/><rect x="1224" y="820" width="18" height="18"/><rect x="1235" y="810" width="18" height="18"/><rect x="1244" y="802" width="18" height="18"/><rect x="1254" y="789" width="18" height="18"/><rect x="1265" y="776" width="18" height="18"/><rect x="1274" y="767" width="18" height="18"/><rect x="1285" y="757" width="18" height="18"/><rect x="1296" y="745" width="18" height="18"/><rect x="1304" y="739" width="18" height="18"/><rect x="1315" y="727" width="18" height="18"/><rect x="1326" y="710" width="18" height="18"/></g>
</g>
<text transform="translate(299.5,1593.0) scale(1.0,1.035)" font-family="'Liberation Sans', Arial, sans-serif" font-size="76" text-anchor="middle" fill="#000">0.00</text>
<text transform="translate(525.1,1593.0) scale(1.0,1.035)" font-family="'Liberation Sans', Arial, sans-serif" font-size="76" text-anchor="middle" fill="#000">0.05</text>
<text transform="translate(750.8,1593.0) scale(1.0,1.035)" font-family="'Liberation Sans', Arial, sans-serif" font-size="76" text-anchor="middle" fill="#000">0.10</text>
<text transform="translate(976.4,1593.0) scale(1.0,1.035)" font-family="'Liberation Sans', Arial, sans-serif" font-size="76" text-anchor="middle" fill="#000">0.15</text>
<text transform="translate(1202.0,1593.0) scale(1.0,1.035)" font-family="'Liberation Sans', Arial, sans-serif" font-size="76" text-anchor="middle" fill="#000">0.20</text>
<text transform="translate(1427.6,1593.0) scale(1.0,1.035)" font-family="'Liberation Sans', Arial, sans-serif" font-size="76" text-anchor="middle" fill="#000">0.25</text>
<text transform="translate(1653.3,1593.0) scale(1.0,1.035)" font-family="'Liberation Sans', Arial, sans-serif" font-size="76" text-anchor="middle" fill="#000">0.30</text>
<text transform="translate(1878.9,1593.0) scale(1.0,1.035)" font-family="'Liberation Sans', Arial, sans-serif" font-size="76" text-anchor="middle" fill="#000">0.35</text>
<text transform="translate(2104.5,1593.0) scale(1.0,1.035)" font-family="'Liberation Sans', Arial, sans-serif" font-size="76" text-anchor="middle" fill="#000">0.40</text>
<text transform="translate(251.5,1508.7) scale(1.0,1.035)" font-family="'Liberation Sans', Arial, sans-serif" font-size="76" text-anchor="end" fill="#000">0.0</text>
<text transform="translate(251.5,1249.5) scale(1.0,1.035)" font-family="'Liberation Sans', Arial, sans-serif" font-size="76" text-anchor="end" fill="#000">0.5</text>
<text transform="translate(251.5,990.3) scale(1.0,1.035)" font-family="'Liberation Sans', Arial, sans-serif" font-size="76" text-anchor="end" fill="#000">1.0</text>
<text transform="translate(251.5,731.1) scale(1.0,1.035)" font-family="'Liberation Sans', Arial, sans-serif" font-size="76" text-anchor="end" fill="#000">1.5</text>
<text transform="translate(251.5,471.9) scale(1.0,1.035)" font-family="'Liberation Sans', Arial, sans-serif" font-size="76" text-anchor="end" fill="#000">2.0</text>
<text transform="translate(251.5,212.7) scale(1.0,1.035)" font-family="'Liberation Sans', Arial, sans-serif" font-size="76" text-anchor="end" fill="#000">2.5</text>
<text transform="translate(876.3,1717.7) scale(1.0,1.035)" font-family="'Liberation Sans', Arial, sans-serif" font-size="90.8" font-weight="bold" fill="#000">Distance</text>
<text transform="translate(1281.1,1717.7) scale(1.0,1.07)" font-family="'Liberation Serif', 'Times New Roman', serif" font-size="89.2" font-weight="bold" fill="#000">(μm)</text>
<text transform="translate(100.0,1023.6) rotate(-90) scale(1.0,1.035)" font-family="'Liberation Sans', Arial, sans-serif" font-size="91" font-weight="bold" fill="#000">Deflection (V)</text>
<rect x="388.5" y="83.5" width="562" height="372" fill="#fff" stroke="#000" stroke-width="3"/>
<rect x="491" y="145" width="18" height="18" fill="#ff0000"/>
<text transform="translate(624.2,185.2) scale(1.0,1.035)" font-family="'Liberation Sans', Arial, sans-serif" font-size="89.6" fill="#000">55.1</text>
<text transform="translate(816.5,185.2) scale(1.28,1.0)" font-family="'Liberation Serif', 'Times New Roman', serif" font-size="90" fill="#000">μ</text>
<text transform="translate(874.8,185.2) scale(1.0,1.035)" font-family="'Liberation Sans', Arial, sans-serif" font-size="89.6" fill="#000">N</text>
<rect x="491" y="265" width="18" height="18" fill="#0000ff"/>
<text transform="translate(624.2,305.2) scale(1.0,1.035)" font-family="'Liberation Sans', Arial, sans-serif" font-size="89.6" fill="#000">73.5</text>
<text transform="translate(816.5,305.2) scale(1.28,1.0)" font-family="'Liberation Serif', 'Times New Roman', serif" font-size="90" fill="#000">μ</text>
<text transform="translate(874.8,305.2) scale(1.0,1.035)" font-family="'Liberation Sans', Arial, sans-serif" font-size="89.6" fill="#000">N</text>
<rect x="491" y="385" width="18" height="18" fill="#00ffff"/>
<text transform="translate(624.2,425.2) scale(1.0,1.035)" font-family="'Liberation Sans', Arial, sans-serif" font-size="89.6" fill="#000">91.9</text>
<text transform="translate(816.5,425.2) scale(1.28,1.0)" font-family="'Liberation Serif', 'Times New Roman', serif" font-size="90" fill="#000">μ</text>
<text transform="translate(874.8,425.2) scale(1.0,1.035)" font-family="'Liberation Sans', Arial, sans-serif" font-size="89.6" fill="#000">N</text>
</svg>
</body></html>
